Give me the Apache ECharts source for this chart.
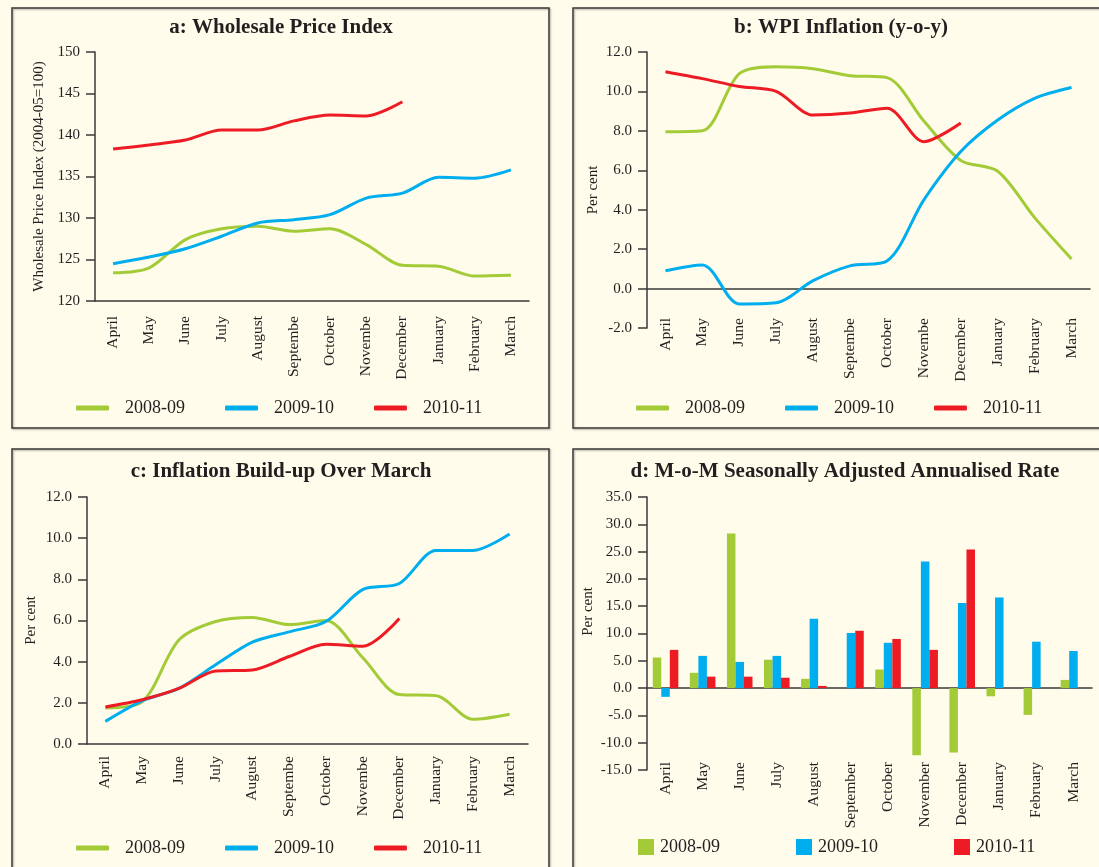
<!DOCTYPE html>
<html>
<head>
<meta charset="utf-8">
<title>WPI and inflation</title>
<script src="https://cdn.jsdelivr.net/npm/echarts@6/dist/echarts.min.js"></script>
<style>
  html, body { margin: 0; padding: 0; background: #fffceb; }
  #main { width: 1099px; height: 867px; }
</style>
</head>
<body>
<div id="main"></div>
<script>
// month labels as printed (line panels cut two names short)
const monthsShort = ['April', 'May', 'June', 'July', 'August', 'Septembe', 'October', 'Novembe', 'December', 'January', 'February', 'March'];
const monthsFull = ['April', 'May', 'June', 'July', 'August', 'September', 'October', 'November', 'December', 'January', 'February', 'March'];
const years = ['2008-09', '2009-10', '2010-11'];

// a: Wholesale Price Index (2004-05=100)
const wpi0809 = [123.4, 124.0, 127.4, 128.7, 129.0, 128.4, 128.7, 126.8, 124.3, 124.2, 123.0, 123.1];
const wpi0910 = [124.5, 125.3, 126.3, 127.8, 129.4, 129.8, 130.4, 132.4, 133.0, 134.9, 134.8, 135.8];
const wpi1011 = [138.3, 138.8, 139.4, 140.6, 140.6, 141.7, 142.4, 142.3, 144.0];

// b: WPI inflation y-o-y, per cent
const inf0809 = [7.95, 8.0, 10.9, 11.25, 11.15, 10.8, 10.7, 8.5, 6.5, 5.95, 3.6, 1.5];
const inf0910 = [0.9, 1.2, -0.78, -0.72, 0.4, 1.15, 1.4, 4.5, 6.95, 8.55, 9.65, 10.2];
const inf1011 = [11.0, 10.65, 10.25, 10.0, 8.8, 8.9, 9.15, 7.45, 8.4];

// c: inflation build-up over March, per cent
const bu0809 = [1.75, 2.05, 5.05, 5.95, 6.15, 5.8, 6.0, 4.2, 2.4, 2.35, 1.2, 1.45];
const bu0910 = [1.1, 2.1, 2.7, 3.85, 4.95, 5.45, 5.95, 7.5, 7.8, 9.4, 9.4, 10.2];
const bu1011 = [1.8, 2.15, 2.7, 3.55, 3.6, 4.25, 4.85, 4.75, 6.1];

// d: m-o-m seasonally adjusted annualised rate, per cent
const mom0809 = [5.6, 2.8, 28.3, 5.2, 1.7, 0, 3.4, -12.3, -11.8, -1.5, -4.9, 1.5];
const mom0910 = [-1.6, 5.9, 4.8, 5.9, 12.7, 10.1, 8.3, 23.2, 15.6, 16.6, 8.5, 6.8];
const mom1011 = [7.0, 2.1, 2.1, 1.9, 0.4, 10.5, 9.0, 7.0, 25.4];

const ticksA = [120, 125, 130, 135, 140, 145, 150];
const ticksB = [-2, 0, 2, 4, 6, 8, 10, 12];
const ticksC = [0, 2, 4, 6, 8, 10, 12];
const ticksD = [-15, -10, -5, 0, 5, 10, 15, 20, 25, 30, 35];

const FONT = 'Liberation Serif';
const INK = '#231f20';
const AXIS = '#3a3a3a';
const colors = ['#a3cb38', '#00aeef', '#ed1c24'];

const chart = echarts.init(document.getElementById('main'));

function catAxis(grid, labels, margin) {
  return {
    type: 'category', gridIndex: grid, data: labels,
    axisLine: { onZero: true, lineStyle: { color: AXIS, width: 1.5 } },
    axisTick: { length: 8, lineStyle: { color: AXIS, width: 1.5 } },
    axisLabel: { rotate: 90, interval: 0, margin: margin, fontFamily: FONT, fontSize: 15.5, color: INK }
  };
}

function valAxis(grid, ticks, digits, name, gap, namePad) {
  return {
    type: 'value', gridIndex: grid,
    min: ticks[0], max: ticks[ticks.length - 1], interval: ticks[1] - ticks[0],
    name: name, nameLocation: 'middle', nameGap: gap,
    nameTextStyle: { fontFamily: FONT, fontSize: 15, color: INK, padding: namePad || 0 },
    axisLine: { show: true, lineStyle: { color: AXIS, width: 1.5 } },
    axisTick: { show: true, length: 9, lineStyle: { color: AXIS, width: 1.5 } },
    splitLine: { show: false },
    axisLabel: { margin: 15, fontFamily: FONT, fontSize: 15, color: INK,
      formatter: v => v.toFixed(digits) }
  };
}

function lines(grid, sets) {
  return sets.map((d, i) => ({
    name: years[i], type: 'line', xAxisIndex: grid, yAxisIndex: grid,
    data: d, smooth: 0.3, symbol: 'none',
    lineStyle: { width: 3, color: colors[i] }, itemStyle: { color: colors[i] }
  }));
}

function legendAt(left, top, square) {
  return {
    left: left, top: top, itemGap: square ? 76 : 40,
    itemWidth: square ? 16 : 33, itemHeight: square ? 16 : 5,
    icon: square ? 'rect' : 'roundRect',
    data: years,
    textStyle: { fontFamily: FONT, fontSize: 18, color: INK, padding: square ? [0, 0, 0, 1] : [0, 0, 0, 11] }
  };
}

function panel(x, y) {
  return {
    type: 'rect', shape: { x: x, y: y, width: 537, height: 420 },
    style: { fill: 'none', stroke: AXIS, lineWidth: 1.5,
      shadowColor: 'rgba(0,0,0,0.35)', shadowBlur: 2, shadowOffsetX: 1, shadowOffsetY: 1 }
  };
}

function heading(x, y, text) {
  return {
    type: 'text', x: x, y: y,
    style: { text: text, fontFamily: FONT, fontSize: 21, fontWeight: 'bold', fill: INK,
      align: 'center', verticalAlign: 'middle' }
  };
}

function gridAt(left, top, width, height) {
  return { left: left, top: top, width: width, height: height, outerBoundsMode: 'none', containLabel: false };
}

chart.setOption({
  animation: false,
  backgroundColor: '#fffceb',
  graphic: [
    panel(12, 8), panel(573, 8), panel(12, 449), panel(573, 449),
    heading(281, 28, 'a: Wholesale Price Index'),
    heading(841, 28, 'b: WPI Inflation (y-o-y)'),
    heading(281, 472, 'c: Inflation Build-up Over March'),
    heading(845, 472, 'd: M-o-M Seasonally Adjusted Annualised Rate')
  ],
  grid: [
    gridAt(95, 52, 434, 249),
    gridAt(647, 52, 443, 276),
    gridAt(87, 497, 441, 247),
    gridAt(647, 497, 445, 273)
  ],
  xAxis: [
    catAxis(0, monthsShort, 15),
    catAxis(1, monthsShort, -10),
    catAxis(2, monthsShort, 12),
    catAxis(3, monthsFull, -8)
  ],
  yAxis: [
    valAxis(0, ticksA, 0, 'Wholesale Price Index (2004-05=100)', 48),
    valAxis(1, ticksB, 1, 'Per cent', 46),
    valAxis(2, ticksC, 1, 'Per cent', 48),
    valAxis(3, ticksD, 1, 'Per cent', 51, [0, 0, 0, 44])
  ],
  legend: [
    legendAt(71, 394, false),
    legendAt(631, 394, false),
    legendAt(71, 834, false),
    legendAt(633, 833, true)
  ],
  series: [
    ...lines(0, [wpi0809, wpi0910, wpi1011]),
    ...lines(1, [inf0809, inf0910, inf1011]),
    ...lines(2, [bu0809, bu0910, bu1011]),
    ...[mom0809, mom0910, mom1011].map((d, i) => ({
      name: years[i], type: 'bar', xAxisIndex: 3, yAxisIndex: 3,
      data: d, barGap: '0%', barCategoryGap: '31%',
      itemStyle: { color: colors[i] }
    }))
  ]
});
</script>
</body>
</html>
